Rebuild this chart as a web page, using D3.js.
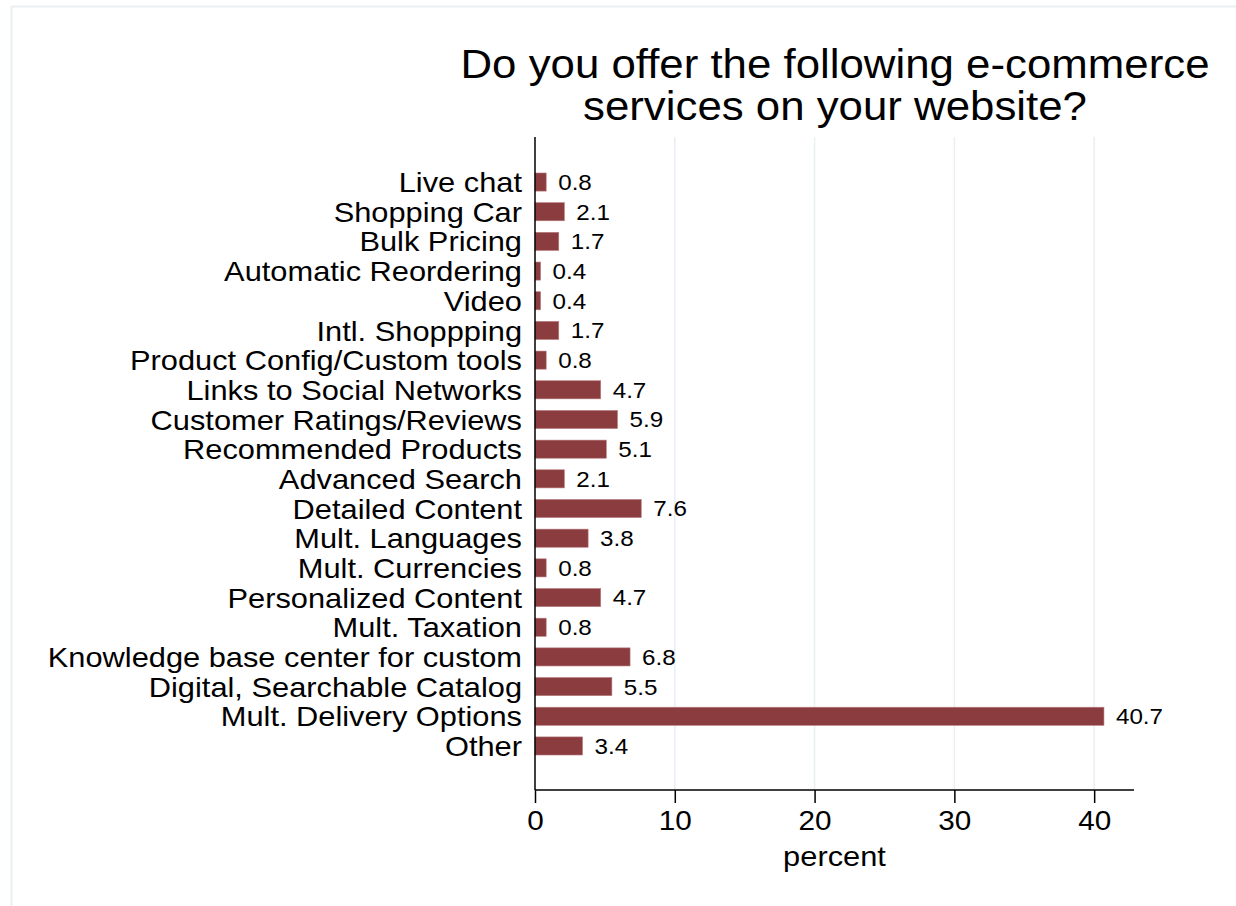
<!DOCTYPE html>
<html>
<head>
<meta charset="utf-8">
<script src="https://cdn.jsdelivr.net/npm/d3@7"></script>
<style>
  body { margin: 0; background: #fff; }
  text { font-family: "Liberation Sans", Arial, sans-serif; fill: #000; }
</style>
</head>
<body>
<div id="chart"></div>
<script>
// data, top to bottom as drawn
var categories = [
  "Live chat", "Shopping Car", "Bulk Pricing", "Automatic Reordering", "Video",
  "Intl. Shoppping", "Product Config/Custom tools", "Links to Social Networks",
  "Customer Ratings/Reviews", "Recommended Products", "Advanced Search",
  "Detailed Content", "Mult. Languages", "Mult. Currencies", "Personalized Content",
  "Mult. Taxation", "Knowledge base center for custom", "Digital, Searchable Catalog",
  "Mult. Delivery Options", "Other"
];
var percents = [0.8, 2.1, 1.7, 0.4, 0.4, 1.7, 0.8, 4.7, 5.9, 5.1, 2.1, 7.6, 3.8, 0.8, 4.7, 0.8, 6.8, 5.5, 40.7, 3.4];
var xTicks = [0, 10, 20, 30, 40];
var titleLines = ["Do you offer the following e-commerce", "services on your website?"];

// the original font is a bit wider than Liberation Sans, stretch text a little
function widen(sel, k) {
  sel.each(function() {
    var len = this.getComputedTextLength();
    d3.select(this)
      .attr("textLength", len * k)
      .attr("lengthAdjust", "spacingAndGlyphs");
  });
}

function init() {
  var w = 1236;
  var h = 906;
  var barColor = "#8a3c3f";
  var gridColor = "#e9eff2";

  var svg = d3.select("#chart")
    .append("svg")
    .attr("width", w)
    .attr("height", h);

  // outer frame (only top and left edges show in the picture)
  svg.append("line")
    .attr("x1", 11).attr("x2", w).attr("y1", 6.5).attr("y2", 6.5)
    .attr("stroke", gridColor).attr("stroke-width", 2);
  svg.append("line")
    .attr("x1", 11.5).attr("x2", 11.5).attr("y1", 6).attr("y2", h)
    .attr("stroke", gridColor).attr("stroke-width", 2);

  // plot region
  var left = 535, right = 1134, top = 137, bottom = 790;

  var x = d3.scaleLinear()
    .domain([0, 42.85])
    .range([left, right]);

  var y = d3.scaleBand()
    .domain(categories)
    .range([167.2, 760.8])
    .paddingInner(0.39)
    .paddingOuter(0.195);

  // grid lines
  svg.append("g")
    .selectAll("line")
    .data(xTicks.slice(1))
    .enter()
    .append("line")
    .attr("x1", function(d) { return x(d); })
    .attr("x2", function(d) { return x(d); })
    .attr("y1", top)
    .attr("y2", bottom)
    .attr("stroke", gridColor)
    .attr("stroke-width", 1.5);

  // bars
  svg.append("g")
    .selectAll("rect")
    .data(percents)
    .enter()
    .append("rect")
    .attr("x", x(0))
    .attr("y", function(d, i) { return y(categories[i]); })
    .attr("width", function(d) { return x(d) - x(0); })
    .attr("height", y.bandwidth())
    .attr("fill", barColor)
    .attr("stroke", "#b87b7d")
    .attr("stroke-width", 0.6);

  // value labels
  var vals = svg.append("g")
    .selectAll("text")
    .data(percents)
    .enter()
    .append("text")
    .attr("x", function(d) { return x(d) + 12; })
    .attr("y", function(d, i) { return y(categories[i]) + y.bandwidth() / 2; })
    .attr("dy", "0.36em")
    .style("font-size", "22px")
    .text(function(d) { return d.toFixed(1); });
  widen(vals, 1.1);

  // y axis
  var yAxis = d3.axisLeft(y).tickSize(0).tickPadding(13);
  var gy = svg.append("g")
    .attr("transform", "translate(" + left + ",0)")
    .call(yAxis);
  gy.select(".domain").remove();
  gy.append("line")
    .attr("x1", 0).attr("x2", 0).attr("y1", top).attr("y2", bottom)
    .attr("stroke", "#000").attr("stroke-width", 1.5);
  gy.selectAll("text")
    .style("font-size", "28px")
    .attr("fill", "#000")
    .attr("dy", "0.36em");
  widen(gy.selectAll("text"), 1.1);

  // x axis
  var xAxis = d3.axisBottom(x)
    .tickValues(xTicks)
    .tickSize(13)
    .tickPadding(8)
    .tickFormat(d3.format("d"));
  var gx = svg.append("g")
    .attr("transform", "translate(0," + bottom + ")")
    .call(xAxis);
  gx.select(".domain")
    .attr("d", "M" + left + ",0H" + right)
    .attr("stroke", "#000").attr("stroke-width", 1.5);
  gx.selectAll(".tick line").attr("stroke", "#000").attr("stroke-width", 1.5);
  gx.selectAll("text")
    .style("font-size", "27px")
    .attr("fill", "#000");
  widen(gx.selectAll("text"), 1.1);

  // x axis title
  var xt = svg.append("text")
    .attr("x", (left + right) / 2)
    .attr("y", 866)
    .attr("text-anchor", "middle")
    .style("font-size", "28px")
    .text("percent");
  widen(xt, 1.1);

  // chart title
  var title = svg.append("g")
    .selectAll("text")
    .data(titleLines)
    .enter()
    .append("text")
    .attr("x", 835)
    .attr("y", function(d, i) { return 78 + i * 42; })
    .attr("text-anchor", "middle")
    .style("font-size", "40px")
    .text(function(d) { return d; });
  widen(title, 1.095);
}

window.onload = init;
</script>
</body>
</html>
